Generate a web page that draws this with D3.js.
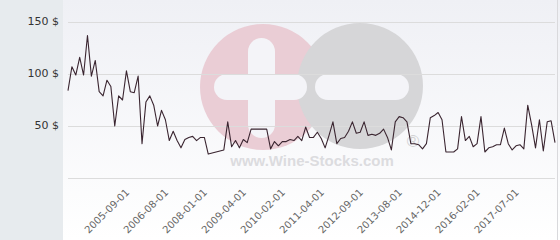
<!DOCTYPE html>
<html><head><meta charset="utf-8">
<script src="https://cdn.jsdelivr.net/npm/d3@7"></script>
<style>html,body{margin:0;padding:0;background:#fff;}svg{display:block;}</style>
</head><body>
<svg id="c" width="560" height="240"></svg>
<script>
// ---- data ----
const prices = [84,107,99,116,99,137,98,113,83,79,94,88,50,79,75,103,83,82,98,33,
73,79,70,50,65,56,36,45,36,29,37,39,40,36,39,39,23,24,25,26,
27,54,30,36,29,37,34,47,47,47,47,47,28,35,31,35,35,37,36,40,
36,49,39,39,44,38,29,41,54,33,38,39,45,54,43,44,54,41,42,41,
43,47,39,27,54,59,58,54,33,33,32,28,33,58,60,63,56,25,25,25,
28,59,36,40,30,33,59,25,29,30,32,32,48,33,27,31,32,28,70,51,
29,56,26,54,55,34];
const tickLabels = ["2005-09-01","2006-08-01","2008-01-01","2009-04-01","2010-02-01",
"2011-04-01","2012-09-01","2013-08-01","2014-12-01","2016-02-01","2017-07-01"];
const firstTickIndex = 15, tickStep = 10;
const yTicks = [0,50,100,150];

// ---- layout ----
const svg = d3.select("#c");
const W = 560, H = 240;
const mLeft = 68, mRight = 555, mTop = 22, mBottom = 178;

const defs = svg.append("defs");
const grad = defs.append("linearGradient").attr("id","bg").attr("x1",0).attr("y1",0).attr("x2",0).attr("y2",1);
grad.append("stop").attr("offset","0%").attr("stop-color","#eff0f5");
grad.append("stop").attr("offset","100%").attr("stop-color","#ffffff");

svg.append("rect").attr("x",0).attr("y",0).attr("width",W).attr("height",H).attr("fill","url(#bg)");
svg.append("rect").attr("x",0).attr("y",0).attr("width",63).attr("height",H).attr("fill","#e7ebee");
svg.append("line").attr("x1",557.5).attr("x2",557.5).attr("y1",0).attr("y2",H).attr("stroke","#d9d9dc");

// ---- watermark ----
const wm = svg.append("g");
wm.append("circle").attr("cx",263).attr("cy",87).attr("r",63).attr("fill","#eacdd5");
wm.append("circle").attr("cx",360).attr("cy",86).attr("r",63).attr("fill","#d6d6d8");
wm.append("rect").attr("x",248).attr("y",38).attr("width",27).attr("height",100).attr("rx",13.5).attr("fill","#f4f4f8");
wm.append("rect").attr("x",214).attr("y",74).attr("width",93).attr("height",26).attr("rx",13).attr("fill","#f4f4f8");
wm.append("rect").attr("x",315).attr("y",74).attr("width",94).attr("height",26).attr("rx",13).attr("fill","#f4f4f8");
wm.append("text").attr("x",312).attr("y",166).attr("text-anchor","middle")
  .attr("font-family","Liberation Sans, Arial, sans-serif").attr("font-weight","bold")
  .attr("font-size",15).attr("fill","#dcdcdf").text("www.Wine-Stocks.com");
wm.append("text").attr("x",413).attr("y",147).attr("text-anchor","middle")
  .attr("font-family","Liberation Sans, Arial, sans-serif")
  .attr("font-size",17).attr("fill","#d2d2d4").text("®");

// ---- scales ----
const x = d3.scalePoint().domain(d3.range(prices.length)).range([mLeft, mRight]);
const y = d3.scaleLinear().domain([0,150]).range([mBottom, mTop]);

// ---- y axis + grid ----
const yAxis = d3.axisLeft(y).tickValues(yTicks).tickSize(-(mRight-mLeft)).tickPadding(9)
  .tickFormat(d => d === 0 ? "" : d + " $");
const gy = svg.append("g").attr("transform",`translate(${mLeft},0)`).call(yAxis);
gy.select(".domain").remove();
gy.selectAll(".tick line").attr("stroke","#dcdcdc");
gy.selectAll(".tick text").attr("font-family","DejaVu Sans, sans-serif").attr("font-size",11)
  .attr("fill","#333").attr("dy","0.25em");

// ---- x axis ----
const tickIdx = tickLabels.map((_, i) => firstTickIndex + i*tickStep);
const xAxis = d3.axisBottom(x).tickValues(tickIdx).tickSize(0)
  .tickFormat((d) => tickLabels[(d - firstTickIndex)/tickStep]);
const gx = svg.append("g").attr("transform",`translate(0,${mBottom})`).call(xAxis);
gx.select(".domain").remove();
gx.selectAll(".tick text").attr("font-family","DejaVu Sans, sans-serif").attr("font-size",10)
  .attr("fill","#666").attr("x",0).attr("y",0).attr("dy",0)
  .attr("text-anchor","end").attr("transform","translate(3,15) rotate(-45)");

// ---- line ----
const line = d3.line().x((d,i) => x(i)).y(d => y(d));
svg.append("path").datum(prices).attr("d",line).attr("fill","none")
  .attr("stroke","#3a2530").attr("stroke-width",1.1).attr("stroke-linejoin","round");
</script>
</body></html>
